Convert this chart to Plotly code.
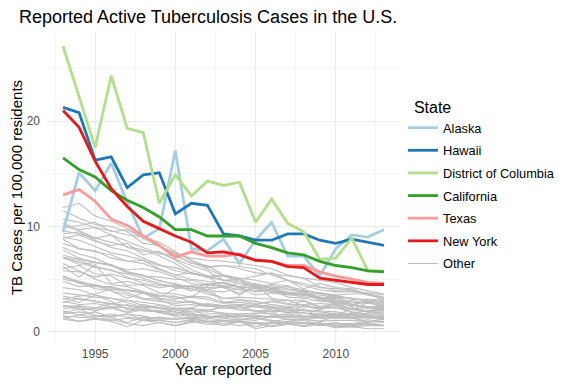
import plotly.graph_objects as go

years = list(range(1993, 2014))

alaska = [9.5, 15.1, 13.4, 16.0, 12.3, 8.9, 9.8, 17.2, 7.9, 7.7, 8.8, 6.5, 8.7, 10.4, 7.2, 7.2, 5.3, 7.9, 9.2, 9.0, 9.7]
hawaii = [21.3, 20.8, 16.3, 16.6, 13.7, 14.9, 15.1, 11.2, 12.2, 12.0, 9.3, 9.1, 8.7, 8.7, 9.3, 9.3, 8.7, 8.4, 8.8, 8.5, 8.2]
dc = [27.1, 22.3, 17.5, 24.3, 19.3, 18.9, 12.2, 14.9, 12.9, 14.3, 13.9, 14.2, 10.4, 12.6, 10.3, 9.5, 6.9, 7.0, 8.9, 5.8, 5.8]
california = [16.5, 15.4, 14.7, 13.4, 12.5, 11.8, 10.9, 9.7, 9.7, 9.1, 9.1, 9.1, 8.4, 8.0, 7.5, 7.3, 6.7, 6.3, 6.1, 5.8, 5.7]
texas = [13.0, 13.5, 12.4, 10.7, 10.1, 9.1, 8.2, 7.1, 7.6, 7.2, 7.2, 7.4, 6.8, 6.7, 6.3, 6.3, 5.7, 5.3, 5.0, 4.7, 4.6]
new_york = [21.0, 19.4, 16.2, 13.6, 11.9, 10.5, 9.8, 9.1, 8.5, 7.5, 7.6, 7.3, 6.8, 6.7, 6.2, 6.1, 5.1, 4.9, 4.7, 4.5, 4.5]

highlight_names = ["Alaska", "Hawaii", "District of Columbia", "California", "Texas", "New York"]
highlight_values = [alaska, hawaii, dc, california, texas, new_york]
highlight_colors = ["#A6CEE3", "#1F78B4", "#B2DF8A", "#33A02C", "#FB9A99", "#E31A1C"]

other_values = [
    [11.8, 12.2, 11.0, 10.5, 9.8, 9.0, 8.5, 7.6, 6.8, 6.1, 6.3, 6.0, 5.6, 5.5, 5.3, 5.1, 4.9, 4.7, 4.2, 3.9, 3.6],
    [11.5, 10.8, 10.2, 10.0, 9.5, 8.4, 8.2, 7.4, 7.0, 6.8, 6.7, 6.5, 6.3, 6.0, 5.4, 5.1, 4.3, 3.9, 3.9, 3.5, 3.2],
    [10.7, 10.4, 9.9, 9.6, 9.2, 9.0, 8.1, 7.5, 6.8, 6.2, 6.3, 6.2, 6.0, 5.4, 4.9, 4.6, 4.2, 4.1, 4.0, 3.6, 3.3],
    [9.9, 10.1, 10.4, 9.5, 9.7, 8.9, 8.1, 7.3, 6.5, 6.3, 5.4, 5.0, 5.3, 5.6, 4.9, 4.1, 4.6, 4.2, 4.1, 3.5, 3.2],
    [10.3, 9.7, 9.9, 9.2, 8.6, 8.0, 7.4, 7.2, 6.6, 6.0, 5.3, 5.0, 4.5, 4.1, 3.6, 3.9, 3.2, 3.3, 2.6, 2.9, 2.2],
    [10.1, 9.6, 8.9, 9.2, 8.0, 7.6, 7.6, 6.9, 6.3, 5.8, 4.9, 4.8, 4.3, 3.9, 3.6, 3.5, 3.3, 3.0, 2.6, 2.3, 2.2],
    [9.6, 9.3, 8.9, 8.5, 8.1, 7.8, 7.2, 6.5, 5.6, 5.2, 5.3, 4.8, 4.4, 4.1, 3.6, 3.3, 3.3, 2.9, 2.6, 2.4, 2.3],
    [9.3, 9.5, 8.7, 8.0, 7.7, 7.0, 6.4, 5.8, 5.5, 5.3, 4.9, 5.0, 4.1, 3.8, 3.6, 3.6, 3.0, 3.2, 2.5, 2.4, 2.4],
    [8.9, 9.2, 8.6, 8.2, 8.4, 7.3, 7.6, 6.8, 5.9, 5.3, 4.2, 3.7, 4.2, 4.0, 3.3, 3.2, 2.9, 2.8, 2.4, 3.1, 2.7],
    [9.0, 8.7, 8.1, 7.5, 7.2, 6.8, 6.3, 6.1, 5.6, 5.2, 4.9, 4.6, 4.4, 4.2, 3.7, 3.5, 3.3, 3.0, 2.8, 2.7, 2.6],
    [8.8, 7.9, 7.7, 7.0, 6.7, 6.8, 6.0, 5.4, 5.6, 5.3, 5.4, 5.1, 4.9, 4.6, 4.9, 4.4, 4.0, 3.8, 3.8, 3.7, 3.5],
    [8.4, 7.9, 7.6, 7.3, 6.7, 6.5, 5.9, 5.4, 5.0, 4.8, 4.6, 4.2, 3.8, 3.9, 3.6, 3.7, 3.2, 2.8, 2.6, 2.2, 2.1],
    [8.0, 7.4, 7.0, 6.3, 5.7, 5.4, 4.8, 4.6, 4.1, 3.8, 3.2, 3.1, 2.9, 2.6, 2.4, 2.6, 2.2, 2.3, 1.9, 1.7, 1.7],
    [7.3, 6.9, 6.6, 6.4, 5.7, 5.3, 4.9, 4.5, 4.3, 4.0, 4.3, 4.3, 4.1, 4.4, 4.1, 3.9, 3.6, 3.4, 2.8, 2.8, 2.6],
    [7.1, 6.4, 6.6, 6.3, 5.9, 6.0, 5.7, 5.2, 4.6, 4.4, 4.4, 4.6, 4.4, 4.2, 4.3, 4.0, 3.7, 3.5, 3.6, 3.6, 3.0],
    [7.8, 7.0, 6.6, 6.3, 5.6, 5.3, 5.2, 5.0, 4.9, 4.5, 4.7, 4.3, 4.6, 4.2, 4.0, 3.8, 3.2, 3.5, 3.1, 3.1, 3.0],
    [7.0, 6.6, 6.1, 5.9, 5.2, 4.6, 4.4, 4.3, 4.3, 3.9, 3.8, 4.1, 3.5, 3.7, 3.5, 3.5, 3.7, 3.4, 3.2, 3.0, 3.1],
    [5.8, 5.7, 5.2, 5.5, 5.1, 4.9, 4.5, 4.4, 4.3, 4.2, 4.3, 4.0, 3.9, 4.0, 3.8, 3.5, 3.5, 3.3, 3.2, 2.9, 2.9],
    [7.1, 6.8, 6.2, 5.8, 5.5, 5.1, 4.6, 4.2, 4.1, 3.6, 3.2, 3.3, 3.2, 3.1, 2.7, 2.9, 2.3, 2.5, 2.2, 2.0, 2.0],
    [6.5, 5.8, 5.0, 4.5, 4.3, 3.8, 3.5, 3.2, 3.4, 3.3, 2.8, 2.8, 2.6, 2.9, 2.6, 2.6, 2.7, 2.6, 2.2, 2.3, 2.1],
    [6.0, 6.3, 5.5, 5.3, 4.4, 4.5, 4.2, 4.4, 3.9, 4.6, 4.3, 3.5, 4.5, 3.2, 3.0, 3.0, 2.4, 2.7, 1.8, 2.0, 2.0],
    [6.2, 5.2, 6.4, 4.6, 4.8, 4.4, 3.7, 3.6, 3.3, 4.3, 2.8, 3.0, 2.7, 2.9, 3.0, 2.5, 2.2, 2.8, 2.1, 2.8, 2.4],
    [3.1, 3.4, 3.6, 4.1, 4.0, 3.7, 3.3, 4.1, 4.4, 4.5, 4.7, 4.2, 4.3, 4.5, 4.4, 3.6, 3.1, 2.7, 3.0, 2.7, 2.8],
    [5.2, 4.8, 4.4, 4.2, 3.7, 3.2, 3.1, 2.9, 2.8, 2.6, 2.4, 2.5, 2.4, 2.4, 2.2, 2.1, 2.0, 1.9, 1.7, 1.7, 1.7],
    [5.3, 4.6, 4.3, 4.3, 3.9, 3.7, 3.4, 3.4, 2.8, 2.4, 2.5, 2.6, 2.5, 2.3, 2.2, 2.0, 1.9, 1.7, 1.5, 1.5, 1.4],
    [5.0, 4.7, 4.1, 3.9, 3.5, 3.1, 2.9, 2.7, 2.9, 2.5, 2.2, 2.4, 2.0, 2.0, 2.0, 1.8, 1.7, 1.7, 1.6, 1.5, 1.5],
    [5.3, 4.7, 4.5, 4.0, 4.0, 3.8, 3.2, 3.1, 3.3, 3.1, 2.7, 2.6, 2.4, 2.6, 2.3, 2.4, 2.3, 2.3, 2.1, 1.9, 1.8],
    [4.8, 4.3, 4.4, 3.9, 3.2, 3.7, 3.0, 2.5, 2.6, 2.4, 2.5, 2.1, 2.6, 2.4, 1.8, 2.5, 2.1, 2.5, 1.8, 1.6, 1.2],
    [4.2, 4.0, 3.5, 3.2, 2.8, 2.3, 2.5, 2.1, 1.7, 1.5, 1.3, 1.1, 1.3, 1.0, 1.2, 1.1, 0.7, 0.9, 0.6, 0.7, 0.6],
    [3.4, 3.1, 2.9, 2.7, 2.5, 2.3, 2.3, 2.1, 2.1, 2.0, 1.8, 1.7, 1.8, 1.7, 1.6, 1.5, 1.4, 1.4, 1.3, 1.2, 1.4],
    [3.7, 3.5, 3.3, 3.2, 3.0, 2.8, 2.6, 2.3, 2.2, 2.1, 2.3, 2.1, 2.0, 1.9, 2.1, 1.8, 1.5, 1.7, 1.7, 1.5, 1.5],
    [2.9, 2.6, 2.7, 2.4, 2.3, 2.6, 2.3, 2.2, 2.3, 2.7, 2.5, 2.3, 2.4, 2.1, 1.8, 1.8, 1.6, 1.6, 1.7, 1.3, 1.4],
    [2.8, 3.2, 2.9, 2.6, 3.0, 2.5, 2.2, 2.1, 1.9, 1.9, 2.5, 2.1, 2.0, 1.7, 2.3, 1.4, 1.7, 1.4, 1.6, 1.4, 1.4],
    [2.5, 2.3, 2.2, 2.4, 1.9, 2.3, 1.8, 1.6, 2.3, 1.4, 1.5, 1.5, 1.4, 1.5, 1.2, 1.2, 1.0, 1.1, 1.1, 1.0, 1.0],
    [2.2, 2.4, 2.0, 2.3, 1.8, 2.1, 2.0, 1.7, 1.8, 1.4, 1.5, 1.7, 1.7, 2.3, 1.8, 1.3, 1.4, 1.6, 1.4, 1.4, 1.5],
    [2.4, 2.5, 2.3, 2.7, 2.2, 2.0, 1.9, 1.5, 1.6, 1.4, 1.7, 1.4, 1.6, 1.4, 1.5, 1.5, 1.4, 1.7, 1.3, 1.4, 1.3],
    [2.5, 2.1, 2.2, 2.2, 2.6, 2.1, 2.0, 1.9, 1.6, 1.5, 1.3, 1.6, 1.5, 1.4, 1.4, 1.3, 1.3, 1.3, 1.3, 1.0, 1.2],
    [3.2, 2.8, 3.5, 2.9, 2.1, 2.4, 2.3, 1.9, 1.4, 1.7, 1.8, 1.2, 1.1, 1.5, 1.7, 2.2, 1.4, 1.5, 2.3, 1.9, 1.8],
    [1.3, 1.6, 1.4, 1.7, 1.4, 1.2, 1.1, 0.9, 1.1, 0.9, 0.6, 1.0, 0.5, 0.8, 1.0, 1.2, 1.0, 1.5, 1.3, 1.8, 2.5],
    [2.0, 1.6, 1.9, 1.4, 0.9, 1.4, 1.3, 1.3, 1.4, 1.3, 1.1, 0.9, 0.8, 0.9, 0.7, 0.6, 0.9, 0.5, 0.5, 0.9, 0.6],
    [1.5, 1.4, 1.3, 1.1, 1.3, 1.1, 1.1, 0.9, 1.2, 1.0, 1.0, 1.0, 0.8, 0.8, 0.9, 0.8, 0.8, 0.6, 0.7, 0.8, 0.6],
    [1.2, 1.0, 1.3, 1.2, 0.8, 0.6, 0.9, 0.6, 1.0, 0.7, 0.8, 1.0, 0.3, 0.6, 0.8, 0.5, 0.7, 0.4, 0.5, 0.3, 0.3],
    [1.7, 1.9, 1.6, 1.5, 1.7, 1.5, 1.2, 1.2, 1.3, 1.2, 1.6, 1.2, 1.4, 1.1, 0.8, 0.9, 0.7, 0.8, 0.7, 0.9, 1.3],
    [1.8, 2.2, 1.5, 1.4, 1.7, 1.2, 1.4, 1.2, 1.3, 1.0, 1.1, 1.0, 0.9, 0.8, 1.0, 0.9, 0.8, 0.8, 0.8, 1.0, 0.9],
    [1.4, 1.0, 1.2, 1.0, 0.5, 1.1, 0.9, 0.6, 0.9, 1.0, 0.8, 0.6, 0.8, 0.5, 0.7, 0.8, 0.6, 0.8, 0.5, 0.6, 0.6],
]

FONT = "Liberation Sans, Arial, Helvetica, sans-serif"

fig = go.Figure()

for i, vals in enumerate(other_values):
    fig.add_trace(go.Scatter(
        x=years, y=vals, mode="lines", name="Other",
        line=dict(color="#BEBEBE", width=1.1),
        legendgroup="Other", showlegend=(i == 0), legendrank=7,
        hoverinfo="skip",
    ))

for rank, (name, vals, col) in enumerate(zip(highlight_names, highlight_values, highlight_colors), start=1):
    fig.add_trace(go.Scatter(
        x=years, y=vals, mode="lines", name=name,
        line=dict(color=col, width=2.8),
        legendgroup=name, legendrank=rank,
    ))

fig.update_layout(
    width=576, height=384,
    margin=dict(l=47, r=176, t=32, b=41, autoexpand=False),
    paper_bgcolor="white", plot_bgcolor="white",
    font=dict(family=FONT, color="black"),
    title=dict(text="Reported Active Tuberculosis Cases in the U.S.",
               x=19/576, xanchor="left", y=1-17/384, yanchor="middle",
               font=dict(size=18, color="black")),
    legend=dict(
        title=dict(text="\u00a0\u00a0State", font=dict(size=16, color="black")),
        x=1.0085, xanchor="left", y=0.807, yanchor="top",
        font=dict(size=12.8, color="black"),
        tracegroupgap=3, traceorder="grouped",
        bgcolor="rgba(0,0,0,0)",
    ),
    xaxis=dict(
        range=[1992, 2014], tickmode="array", tickvals=[1995, 2000, 2005, 2010],
        showgrid=True, gridcolor="#EBEBEB", gridwidth=1, zeroline=False, showline=False,
        tickfont=dict(size=12, color="#4D4D4D"), ticks="", ticklabelstandoff=2,
        minor=dict(showgrid=True, gridcolor="#F5F5F5", gridwidth=1, tickvals=[1992.5, 1997.5, 2002.5, 2007.5, 2012.5]),
        title=dict(text="Year reported", font=dict(size=16, color="black"), standoff=3),
    ),
    yaxis=dict(
        range=[-1.05, 28.45], tickmode="array", tickvals=[0, 10, 20],
        showgrid=True, gridcolor="#EBEBEB", gridwidth=1, zeroline=False, showline=False,
        tickfont=dict(size=12, color="#4D4D4D"), ticks="", ticklabelstandoff=6,
        minor=dict(showgrid=True, gridcolor="#F5F5F5", gridwidth=1, tickvals=[5, 15, 25]),
        title=dict(text="TB Cases per 100,000 residents", font=dict(size=15, color="black"), standoff=0),
    ),
    showlegend=True,
)

fig.write_html("out.html", config={"displayModeBar": False},
               post_script="document.body.style.margin='0px';")
